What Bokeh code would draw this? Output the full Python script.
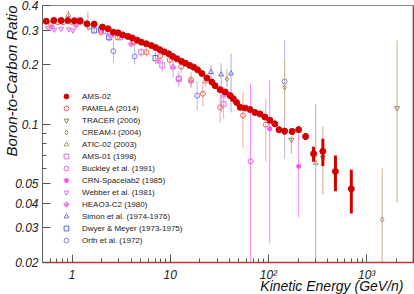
import math
from bokeh.plotting import figure
from bokeh.models import (ColumnDataSource, FixedTicker, Legend, LegendItem,
                          Span, CustomJSTickFormatter, Title)
from bokeh.embed import file_html
from bokeh.resources import INLINE

# ---------------- data ----------------
x_start, x_end = 0.5, 3000
y_start, y_end = 0.02, 0.4

x_title = "Kinetic Energy (GeV/n)"
y_title = "Boron-to-Carbon Ratio"
x_tick_values = [1, 10, 100, 1000]
x_tick_labels = ["1", "10", "10²", "10³"]
y_tick_values = [0.02, 0.03, 0.04, 0.05, 0.1, 0.2, 0.3, 0.4]
y_tick_labels = ["0.02", "0.03", "0.04", "0.05", "0.1", "0.2", "0.3", "0.4"]
y_minor_ticks = [0.06, 0.07, 0.08, 0.09]

ams02_e = [0.545, 0.653, 0.774, 0.905, 1.055, 1.205, 1.418, 1.68, 2.04, 2.33, 2.64, 2.94,
           3.28, 3.71, 4.11, 4.6, 5.07, 5.7, 6.41, 7.1, 7.83, 8.7, 9.66, 10.6, 11.7, 13.0,
           14.3, 15.8, 17.3, 19.0, 21.0, 23.6, 26.5, 28.6, 32.2, 36.3, 40.7, 43.9, 47.5,
           51.5, 57.8, 65.0, 73.0, 82.0, 92.0, 103.5,
           116, 128, 146, 174, 203, 239, 288, 358, 481, 698]
ams02_bc = [0.333, 0.336, 0.336, 0.336, 0.335, 0.333, 0.323, 0.322, 0.311, 0.305, 0.293, 0.291,
            0.284, 0.279, 0.274, 0.267, 0.261, 0.256, 0.251, 0.245, 0.239, 0.233, 0.228, 0.221,
            0.215, 0.209, 0.204, 0.199, 0.195, 0.189, 0.181, 0.172, 0.164, 0.157, 0.150, 0.146,
            0.140, 0.135, 0.129, 0.122, 0.121, 0.119, 0.115, 0.113, 0.109, 0.105,
            0.1007, 0.094, 0.0925, 0.0922, 0.094, 0.0869, 0.0710, 0.0731, 0.0578, 0.0472]
ams02_err = [0.004, 0.004, 0.004, 0.004, 0.004, 0.004, 0.004, 0.004, 0.004, 0.004, 0.004, 0.004,
             0.003, 0.003, 0.003, 0.003, 0.003, 0.003, 0.003, 0.003, 0.003, 0.003, 0.003, 0.003,
             0.003, 0.003, 0.003, 0.003, 0.003, 0.003, 0.003, 0.003, 0.003, 0.003, 0.003, 0.003,
             0.003, 0.003, 0.003, 0.003, 0.003, 0.003, 0.003, 0.003, 0.003, 0.003,
             0.003, 0.0033, 0.0035, 0.0035, 0.0035, 0.0032, 0.0062, 0.0115, 0.0119, 0.0118]

pamela_e = [0.61, 0.72, 0.81, 1.0, 1.23, 1.5, 1.97, 2.9, 4.27, 5.74, 7.9, 9.9, 12.9, 16.3,
            21.5, 32.2, 55, 94]
pamela_bc = [0.323, 0.329, 0.329, 0.330, 0.336, 0.312, 0.293, 0.276, 0.261, 0.232, 0.222,
             0.212, 0.196, 0.168, 0.143, 0.122, 0.111, 0.0998]
pamela_err = [0.01, 0.01, 0.01, 0.01, 0.01, 0.01, 0.01, 0.01, 0.01, 0.012, 0.012, 0.014,
              0.014, 0.016, 0.02, 0.02, 0.035, 0.035]

tracer_e = [171, 358, 2040]
tracer_bc = [0.0836, 0.068, 0.121]
tracer_lo = [0.0126, 0.024, 0.081]
tracer_hi = [0.004, 0.03, 0.145]

cream_e = [1.45, 37.7, 146, 1440]
cream_bc = [0.325, 0.170, 0.154, 0.033]
cream_lo = [0.026, 0.015, 0.049, 0.03]
cream_hi = [0.045, 0.02, 0.057, 0.027]

atic_e = [0.92, 22.7, 303]
atic_bc = [0.358, 0.165, 0.0637]
atic_lo = [0.018, 0.01, 0.06]
atic_hi = [0.02, 0.012, 0.063]

ams01_e = [1.2, 2.17, 3.08, 5.07, 8.3, 12.2, 34.9]
ams01_bc = [0.338, 0.296, 0.276, 0.232, 0.199, 0.170, 0.127]
ams01_err = [0.01, 0.01, 0.01, 0.012, 0.014, 0.016, 0.02]

buckley_e = [65.9]
buckley_bc = [0.0651]
buckley_lo = [0.055]
buckley_hi = [0.096]

crn_e = [103, 203]
crn_bc = [0.095, 0.0614]
crn_lo = [0.07, 0.0274]
crn_hi = [0.072, 0.028]

webber_e = [0.567, 0.66, 0.774, 0.93, 1.02]
webber_bc = [0.307, 0.302, 0.305, 0.303, 0.299]
webber_err = [0.006, 0.006, 0.006, 0.006, 0.006]

heao_e = [0.62, 1.1, 2.5, 4.0, 7.5, 10.6, 16.2, 35]
heao_bc = [0.31, 0.317, 0.28, 0.255, 0.21, 0.195, 0.165, 0.14]
heao_err = [0.006, 0.006, 0.006, 0.007, 0.008, 0.009, 0.01, 0.015]

simon_e = [10.7, 26, 33, 41.6]
simon_bc = [0.195, 0.184, 0.179, 0.181]
simon_lo = [0.022, 0.015, 0.064, 0.066]
simon_hi = [0.024, 0.015, 0.025, 0.047]

dwyer_e = [1.68, 1.97, 2.39, 7.08]
dwyer_bc = [0.299, 0.302, 0.276, 0.217]
dwyer_err = [0.01, 0.01, 0.012, 0.015]

orth_e = [2.64, 4.34, 12.2, 18.8, 146]
orth_bc = [0.235, 0.221, 0.171, 0.140, 0.165]
orth_lo = [0.029, 0.02, 0.012, 0.022, 0.098]
orth_hi = [0.034, 0.045, 0.012, 0.025, 0.101]

# ---------------- figure ----------------
FONT = "Liberation Sans"
p = figure(width=414, height=294, x_axis_type="log", y_axis_type="log",
           x_range=(x_start, x_end), y_range=(y_start, y_end),
           output_backend="svg", toolbar_location=None,
           min_border_left=42, min_border_right=1, min_border_top=5, min_border_bottom=32)
p.grid.visible = False
p.outline_line_color = "#8a8a8a"
p.background_fill_color = "white"
p.border_fill_color = "white"

x_minor = [m * 10.0 ** k for k in range(-1, 4) for m in range(2, 10)]
p.xaxis.ticker = FixedTicker(ticks=x_tick_values, minor_ticks=x_minor)
p.yaxis.ticker = FixedTicker(ticks=y_tick_values, minor_ticks=y_minor_ticks)

fmt_code = """
for (let i = 0; i < vals.length; i++) {
  if (Math.abs(vals[i] - tick) < 1e-9 * Math.abs(vals[i])) return labs[i];
}
return '';
"""
p.xaxis.formatter = CustomJSTickFormatter(args=dict(vals=x_tick_values, labs=x_tick_labels), code=fmt_code)
p.yaxis.formatter = CustomJSTickFormatter(args=dict(vals=y_tick_values, labs=y_tick_labels), code=fmt_code)

for ax in (p.xaxis, p.yaxis):
    ax.major_tick_in = 8
    ax.major_tick_out = 0
    ax.minor_tick_in = 4
    ax.minor_tick_out = 0
    ax.major_tick_line_color = "#555555"
    ax.minor_tick_line_color = "#555555"
    ax.major_label_text_font = FONT
    ax.major_label_text_font_size = "12px"
    ax.major_label_text_font_style = "italic"
    ax.major_label_text_color = "#222222"

p.xaxis.axis_line_color = "#cc3333"
p.xaxis.axis_line_width = 1.5
p.xaxis.major_label_standoff = 5
p.yaxis.axis_line_color = "#666666"
p.yaxis.major_label_standoff = 4

# axis titles (ROOT style: aligned to the end of each axis)
p.add_layout(Title(text=x_title, align="right", vertical_align="top", offset=10, standoff=-14,
                   text_font=FONT, text_font_size="14px", text_font_style="italic",
                   text_color="#111111"), "below")
p.add_layout(Title(text=y_title, align="right", vertical_align="bottom", offset=0, standoff=-15,
                   text_font=FONT, text_font_size="15px", text_font_style="italic",
                   text_color="#111111"), "left")

p.add_layout(Span(location=x_end, dimension="height", line_color="#7a0000", line_width=1.5))


def add_series(e, r, lo, hi, marker, color, bar_color, fill=False, size=5, bar_w=1.0, lw=1.0):
    src = ColumnDataSource(dict(e=e, r=r,
                                lo=[a - b for a, b in zip(r, lo)],
                                hi=[a + b for a, b in zip(r, hi)]))
    p.segment(x0="e", y0="lo", x1="e", y1="hi", source=src,
              line_color=bar_color, line_width=bar_w)
    return p.scatter(x="e", y="r", source=src, marker=marker, size=size,
                     line_color=color, line_width=lw,
                     fill_color=color if fill else None)


r_orth = add_series(orth_e, orth_bc, orth_lo, orth_hi, "circle", "#8080e0", "#b8b8f0")
r_dwyer = add_series(dwyer_e, dwyer_bc, dwyer_err, dwyer_err, "square", "#6060e0", "#a0a0f0")
r_simon = add_series(simon_e, simon_bc, simon_lo, simon_hi, "triangle", "#7070f0", "#a8a8f4")
r_heao = add_series(heao_e, heao_bc, heao_err, heao_err, "plus", "#e888e8", "#f0a8f0", fill=True)
r_webber = add_series(webber_e, webber_bc, webber_err, webber_err, "inverted_triangle", "#e070e0", "#f0a0f0")
r_crn = add_series(crn_e, crn_bc, crn_lo, crn_hi, "asterisk", "#ff50ff", "#f888f8", lw=1.5)
r_buckley = add_series(buckley_e, buckley_bc, buckley_lo, buckley_hi, "circle", "#e060e0", "#f878f8")
r_ams01 = add_series(ams01_e, ams01_bc, ams01_err, ams01_err, "square", "#e070e0", "#f0a0f0")
r_atic = add_series(atic_e, atic_bc, atic_lo, atic_hi, "triangle", "#b09878", "#c8b496")
r_cream = add_series(cream_e, cream_bc, cream_lo, cream_hi, "diamond", "#b08a68", "#c8b090")
r_tracer = add_series(tracer_e, tracer_bc, tracer_lo, tracer_hi, "inverted_triangle", "#a08060", "#c8b090")
r_pamela = add_series(pamela_e, pamela_bc, pamela_err, pamela_err, "circle", "#f06060", "#f4a8a8")
r_ams02 = add_series(ams02_e, ams02_bc, ams02_err, ams02_err, "circle", "#d40000", "#d40000",
                     fill=True, size=6, bar_w=3)

legend_entries = [
    ("AMS-02", r_ams02), ("PAMELA (2014)", r_pamela), ("TRACER (2006)", r_tracer),
    ("CREAM-I (2004)", r_cream), ("ATIC-02 (2003)", r_atic), ("AMS-01 (1998)", r_ams01),
    ("Buckley et al. (1991)", r_buckley), ("CRN-Spacelab2 (1985)", r_crn),
    ("Webber et al. (1981)", r_webber), ("HEAO3-C2 (1980)", r_heao),
    ("Simon et al. (1974-1976)", r_simon), ("Dwyer & Meyer (1973-1975)", r_dwyer),
    ("Orth et al. (1972)", r_orth),
]
legend = Legend(items=[LegendItem(label=l, renderers=[r]) for l, r in legend_entries],
                location=(18, 16), glyph_width=12, glyph_height=12, label_height=12,
                label_standoff=10, spacing=0, padding=0, margin=0,
                border_line_alpha=0, background_fill_alpha=0,
                label_text_font=FONT, label_text_font_size="8px",
                label_text_color="#222222")
p.add_layout(legend)

open("out.html", "w").write(file_html(p, INLINE))
